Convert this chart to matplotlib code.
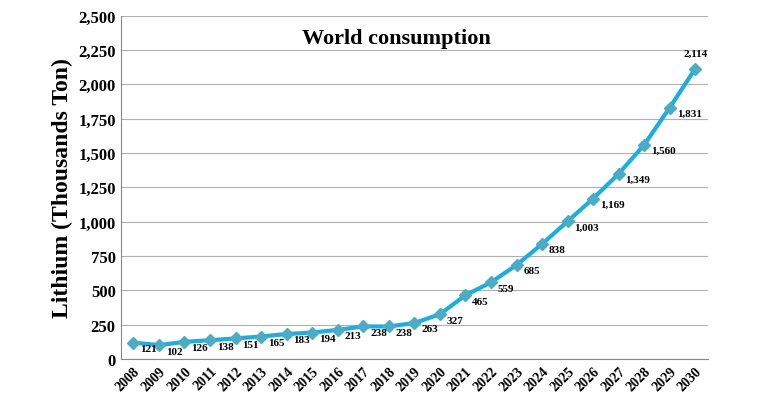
import matplotlib.pyplot as plt
from matplotlib.ticker import FuncFormatter

years = list(range(2008, 2031))
consumption = [121, 102, 126, 138, 151, 165, 183, 194, 213, 238, 238, 263,
               327, 465, 559, 685, 838, 1003, 1169, 1349, 1560, 1831, 2114]

plt.rcParams['font.family'] = ['Liberation Serif', 'DejaVu Serif']

fig = plt.figure(figsize=(7.68, 4.14), dpi=100)
ax = fig.add_axes([0.157, 0.13, 0.765, 0.83])

ax.plot(years, consumption, color='#1aaee5', linewidth=3, zorder=2)
ax.plot(years, consumption, linestyle='none', marker='D', markersize=6,
        color='#4bacc6', zorder=3)

for x, y in zip(years, consumption):
    if x == 2030:
        ax.annotate(f"{y:,}", (x, y), xytext=(0, 8), textcoords='offset points',
                    ha='center', va='bottom', fontsize=8, fontweight='bold')
    else:
        ax.annotate(f"{y:,}", (x, y), xytext=(5, -1), textcoords='offset points',
                    ha='left', va='top', fontsize=8, fontweight='bold')

ax.set_xlim(2007.5, 2030.5)
ax.set_ylim(0, 2500)
ax.set_yticks(range(0, 2501, 250))
ax.yaxis.set_major_formatter(FuncFormatter(lambda v, p: f"{int(v):,}"))
ax.set_xticks(years)
ax.set_xticklabels([str(y) for y in years], rotation=45, ha='right',
                   rotation_mode='anchor', fontsize=10, fontweight='bold')
for lbl in ax.get_yticklabels():
    lbl.set_fontsize(12)
    lbl.set_fontweight('bold')
ax.tick_params(length=0)
ax.grid(axis='y', color='#b0b0b0', linewidth=0.8)
ax.set_axisbelow(True)
for side in ['top', 'right']:
    ax.spines[side].set_visible(False)
ax.spines['left'].set_color('#888888')
ax.spines['bottom'].set_color('#888888')

ax.set_ylabel("Lithium (Thousands Ton)", fontsize=17, fontweight='bold')
ax.text(0.47, 0.935, "World consumption", transform=ax.transAxes,
        ha='center', va='center', fontsize=16, fontweight='bold')

fig.savefig("out.png", dpi=100)
